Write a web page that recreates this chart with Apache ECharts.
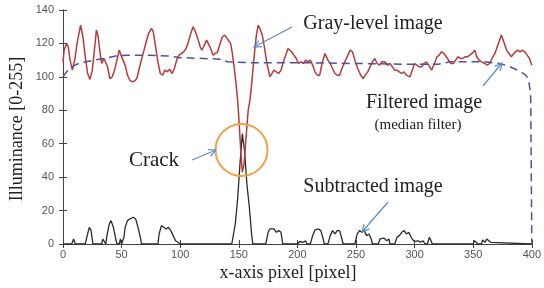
<!DOCTYPE html>
<html><head><meta charset="utf-8">
<script src="https://cdn.jsdelivr.net/npm/echarts@6/dist/echarts.min.js"></script>
<style>html,body{margin:0;padding:0;background:#fff}#c{width:544px;height:288px}</style>
</head><body><div id="c"></div>
<script>
// x-axis ticks
const xTicks = [0, 50, 100, 150, 200, 250, 300, 350, 400];
const yTicks = [0, 20, 40, 60, 80, 100, 120, 140];

// Gray-level image (red)
const grayX = [0,1,3,4.5,6,8,10,12,15,17,19,21,23,25,26.5,28.5,30,31.5,33,35,36.5,38,40,42,44,46,48,49.5,51,53,55,57,59,61,63,65,68,71,73,75.5,77,79,81,83,85,87,89,91,93,95,97,99,101,103,105,107,109,111,113,115,117,118.5,120,122.5,124,126,128,130,132,134,136,138,140,141.5,143,144.5,146,147.5,149,150.5,152,153,154.5,156,158,159.5,161,162,163.5,165,166.5,168,170,172,174,176.5,178,180,182,184,186,188,190,192,193.5,195,197,199,201,203,205,207,209,211,213,215,217,219,221,223.5,226,228,230,232,234,236,238,240.5,243,245,247,249,251.5,254,256,258,260,262,264,266,268,270,272,274.5,277,279,281,283,285,287,289,291,293,296,298,300,302,304,306,308,310,312,314.5,317,319,321,323,325,327,329,331,333,335,337,339,341,343,345,347,349,351.5,353,355,357,360,362,364,366,368.5,370,372,374,376,378.5,380.5,382.5,384,386,388,390,392,394,396,398,400];
const grayY = [109,116,120,118,110,104,110,120,131,124,112,102,98.5,104,114,128,124,115,108,111,112,106,99,100,104,110,116,113,114,107,101,98,97,97.5,99,105,113,121,126,129,127,118,109,102,101,104,103,104.5,102,105,110,113,114,115,117,121,126,130,127,123,118,116,118,122,121,117,113,114,115,120,124,125,123,124,120,114,106,97,86,70,52,43,48,62,80,86,96,104,115,125,131,129,125,117,108,100,101,104,103,102,104,109,113,117,118,115,113,111,108,109,108,110,109,110,107,103,101,101,108,114,110,108,105,102,101,101,105,109,113,116,115,110,105,101,99,101,103,106,109,111,108,107,109,109,107,108,106,104,104,103,102,103,101,100,104,108,107,106,106,108,109,107,104,108,112,113,115,114,112,110,108,108,110,112,111,111,112,112,113,114,116,112,110,109,108,107,108,111,114,117,121,125,121,116,114,112,113,115,116,115,116,115,113,111,107];

// Filtered image (median filter, dashed)
const filtX = [0,3,6,10,15,20,26,35,45,55,70,90,100,120,137,140,160,200,250,300,320,330,360,372,380,388,394,397,399,400];
const filtY = [100,103,105,107,108.5,109,110,111,112.5,113,113,112.5,111.5,111,110.5,109,108.5,108.5,108,107.5,107.5,109,109,108,106.5,104,101.5,99,90,0];

// Subtracted image (black)
const subX = [0,7.5,9,10.5,19,21,22.5,24,25.5,33,34,35.5,36.5,37.5,39.5,41,43,45,46,48,49,50,51,52,53,55,57,60,62,64,66,67,70,71,72,81,82,84,86,88,90,92,94,96,98,100,144,147,149,151,153,155,157,159,161,162,173,175,176.5,178,180,182,184,186,187.5,200,202,205,207,208,211,213,215,218,220,222,223,226,228,230,232,234,236,238,239,249,251,253,255,257,259,261,263,264,269,270.5,272,274,276,278,279,283,285,287,289,291,293,295,297,299,301,303,305,307,309,311,312.5,314,315,339,340,341,350,351,352.5,354,357,358,360,361.5,363,365,366,400];
const subY = [0,0,3,0,0,6,10,8,0,0,3,3,0,5,12,14,10,3,0,0,3,0,0,4,10,14,15,16,15,10,4,0,0,1,0,0,6,11,10,9,10,8,5,2,1,0,0,12,27,48,66,55,35,22,5,0,0,7,9,8,9,7,8,7,0,0,1.5,1,2,0,0,5,8.5,9,8,3,0,0,5,8,6,8,8,3,0,0,6,8,7,8,5,6,3,0,0,3,2,3.5,2,3,0,0,4,5,7,8,6,7,4,2,1.5,2,1,2,0,0,4,2,0,0,1,0,0,2,1,0,0,2.5,1,3,2,1,0,0];

const zip = (xs, ys) => xs.map((x, i) => [x, ys[i]]);

const chart = echarts.init(document.getElementById('c'), null, {renderer: 'canvas'});
const tickLabel = {color: '#555', fontFamily: 'Liberation Sans', fontSize: 11};
const axLine = {show: true, lineStyle: {color: '#444', width: 1}};
const tick = {show: true, inside: true, length: 4, lineStyle: {color: '#444'}};
const serif = 'Liberation Serif';
const arrowColor = '#5b8ccc';

function arrow(x1, y1, x2, y2) {
  const a = Math.atan2(y2 - y1, x2 - x1), L = 8, w = 0.45;
  return [
    {type: 'line', shape: {x1, y1, x2, y2}, style: {stroke: arrowColor, lineWidth: 1.2}, z: 100},
    {type: 'polyline', shape: {points: [
      [x2 - L * Math.cos(a - w), y2 - L * Math.sin(a - w)], [x2, y2],
      [x2 - L * Math.cos(a + w), y2 - L * Math.sin(a + w)]]},
      style: {stroke: arrowColor, lineWidth: 1.2, fill: null}, z: 100}
  ];
}
function txt(text, x, y, size) {
  return {type: 'text', x, y, z: 100, style: {text, font: size + 'px "' + serif + '"', fill: '#222', textAlign: 'center', textVerticalAlign: 'middle'}};
}

chart.setOption({
  animation: false,
  grid: {left: 63, right: 11, top: 10, bottom: 44},
  xAxis: [
    {type: 'value', min: xTicks[0], max: xTicks[xTicks.length - 1], interval: 50, position: 'bottom',
     axisLine: axLine, axisTick: tick, splitLine: {show: false}, axisLabel: Object.assign({margin: 5}, tickLabel)},
    {type: 'value', min: 0, max: 400, interval: 50, position: 'top',
     axisLine: axLine, axisTick: tick, splitLine: {show: false}, axisLabel: {show: false}}
  ],
  yAxis: [
    {type: 'value', min: yTicks[0], max: yTicks[yTicks.length - 1], interval: 20, position: 'left',
     axisLine: axLine, axisTick: tick, splitLine: {show: false}, axisLabel: Object.assign({margin: 9}, tickLabel)},
    {type: 'value', min: 0, max: 140, interval: 20, position: 'right',
     axisLine: axLine, axisTick: tick, splitLine: {show: false}, axisLabel: {show: false}}
  ],
  series: [
    {name: 'Subtracted image', type: 'line', data: zip(subX, subY), showSymbol: false,
     lineStyle: {color: '#2a2a2a', width: 1.3}, z: 3},
    {name: 'Gray-level image', type: 'line', data: zip(grayX, grayY), showSymbol: false,
     lineStyle: {color: '#b83a3a', width: 1.5}, z: 4},
    {name: 'Filtered image', type: 'line', data: zip(filtX, filtY), showSymbol: false,
     lineStyle: {color: '#4d5299', width: 1.5, type: [8, 5]}, z: 5}
  ],
  graphic: [
    {type: 'circle', shape: {cx: 241.5, cy: 150, r: 26}, style: {stroke: '#f0a048', lineWidth: 2, fill: null}, z: 100},
    txt('Gray-level image', 373, 24, 20),
    txt('Filtered image', 424, 103, 20),
    txt('(median filter)', 418, 125, 15),
    txt('Crack', 154, 160, 21),
    txt('Subtracted image', 373, 187, 20),
    {type: 'text', x: 288, y: 273, z: 100, style: {text: 'x-axis pixel [pixel]', font: '18px "' + serif + '"', fill: '#222', textAlign: 'center', textVerticalAlign: 'middle'}},
    {type: 'text', x: 17, y: 129, rotation: Math.PI / 2, z: 100, style: {text: 'Illuminance [0-255]', font: '18px "' + serif + '"', fill: '#222', textAlign: 'center', textVerticalAlign: 'middle'}}
  ].concat(arrow(292, 27, 254, 47), arrow(483, 86, 502, 63), arrow(192, 160, 216, 150), arrow(388, 202, 362, 232))
});
</script></body></html>
